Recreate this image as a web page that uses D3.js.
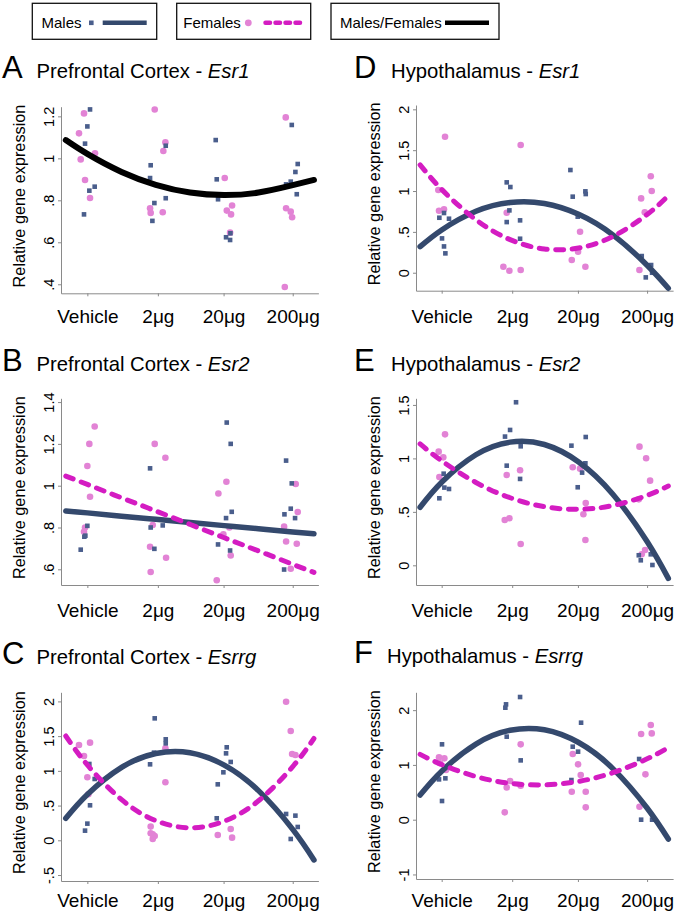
<!DOCTYPE html>
<html><head><meta charset="utf-8">
<script src="https://cdn.jsdelivr.net/npm/d3@7"></script>
<style>
body{margin:0;background:#fff;}
text{font-family:"Liberation Sans",Arial,Helvetica,sans-serif;fill:#000;}
</style></head>
<body><svg id="chart" width="680" height="913"></svg>
<script>
// ---------------- DATA ----------------
const doseLabels = ["Vehicle", "2\u03bcg", "20\u03bcg", "200\u03bcg"];
const doseTicks = [1, 2.03, 2.99, 4];
const panelLetters = ["A", "B", "C", "D", "E", "F"];
const panelRegions = ["Prefrontal Cortex", "Prefrontal Cortex", "Prefrontal Cortex", "Hypothalamus", "Hypothalamus", "Hypothalamus"];
const panelGenes = ["Esr1", "Esr2", "Esrrg", "Esr1", "Esr2", "Esrrg"];
const yRanges = [[0.357, 1.246], [0.525, 1.418], [-0.586, 2.131], [-0.22, 2.053], [-0.184, 1.562], [-1.083, 2.326]];
const yTickValues = [[0.4, 0.6, 0.8, 1, 1.2], [0.6, 0.8, 1, 1.2, 1.4], [-0.5, 0, 0.5, 1, 1.5, 2], [0, 0.5, 1, 1.5, 2], [0, 0.5, 1, 1.5], [-1, 0, 1, 2]];
const yTickLabels = [[".4", ".6", ".8", "1", "1.2"], [".6", ".8", "1", "1.2", "1.4"], ["-.5", "0", ".5", "1", "1.5", "2"], ["0", ".5", "1", "1.5", "2"], ["0", ".5", "1", "1.5"], ["-1", "0", "1", "2"]];

// fitted curves read at these dose positions
const fitX = [0.685, 1, 1.5, 2, 2.5, 3, 3.5, 4, 4.31];
const aFitBoth = [1.087, 1.021, 0.935, 0.874, 0.837, 0.825, 0.837, 0.872, 0.897];
const bFitMales = [0.879, 0.870, 0.854, 0.839, 0.824, 0.809, 0.794, 0.779, 0.770];
const bFitFemales = [1.046, 1.006, 0.942, 0.879, 0.815, 0.751, 0.688, 0.624, 0.585];
const cFitMales = [0.317, 0.660, 1.050, 1.250, 1.261, 1.083, 0.715, 0.157, -0.283];
const cFitFemales = [1.502, 1.085, 0.585, 0.283, 0.180, 0.275, 0.569, 1.061, 1.466];
const dFitMales = [0.319, 0.524, 0.752, 0.860, 0.848, 0.716, 0.464, 0.092, -0.190];
const dFitFemales = [1.320, 1.020, 0.649, 0.405, 0.290, 0.303, 0.444, 0.713, 0.944];
const eFitMales = [0.543, 0.777, 1.034, 1.152, 1.130, 0.967, 0.665, 0.222, -0.122];
const eFitFemales = [1.135, 0.977, 0.775, 0.632, 0.548, 0.524, 0.559, 0.654, 0.742];
const fFitMales = [0.450, 0.886, 1.381, 1.633, 1.642, 1.409, 0.933, 0.213, -0.354];
const fFitFemales = [1.193, 1.007, 0.788, 0.664, 0.635, 0.699, 0.858, 1.111, 1.315];

// individual observations [dose position, expression]
const aFemales = [[0.878,1.119],[0.951,1.214],[0.903,0.995],[0.966,0.897],[1.039,0.811],[1.112,1.024],[1.984,1.233],[1.916,0.762],[1.925,0.740],[2.101,0.743],[2.110,1.035],[2.140,1.076],[3.007,0.906],[3.037,0.751],[3.099,0.733],[3.114,0.775],[3.085,0.646],[3.898,1.195],[3.903,0.762],[3.971,0.746],[3.991,0.719],[3.884,0.387]];
const aMales = [[1.039,1.233],[1.0,1.152],[0.966,1.070],[1.029,0.846],[1.107,0.865],[0.951,0.733],[1.925,0.967],[1.916,0.906],[1.979,0.787],[1.950,0.702],[2.145,1.060],[2.145,0.810],[2.875,1.087],[2.890,0.900],[2.909,0.805],[3.026,0.624],[3.085,0.611],[3.090,0.643],[3.986,1.159],[3.903,0.876],[3.971,0.889],[4.073,0.973],[4.039,0.935],[4.059,0.829]];
const bFemales = [[1.107,1.283],[1.029,1.200],[1.0,1.094],[1.039,0.947],[0.966,0.800],[0.951,0.780],[1.984,1.200],[2.140,1.134],[1.955,0.812],[1.916,0.708],[1.925,0.587],[2.150,0.655],[3.031,1.019],[2.914,0.963],[2.890,0.548],[2.987,0.767],[3.094,0.666],[3.075,0.800],[4.044,1.008],[4.073,0.874],[3.874,0.804],[3.903,0.733],[4.059,0.722],[3.971,0.603]];
const bMales = [[0.903,0.694],[0.956,0.756],[0.971,0.761],[1.0,0.808],[1.916,1.083],[1.925,0.800],[2.101,0.810],[1.979,0.698],[3.036,1.302],[3.094,1.200],[3.026,0.845],[3.109,0.875],[2.909,0.719],[3.085,0.690],[3.903,1.120],[3.986,1.011],[3.971,0.890],[4.034,0.845],[3.879,0.863],[3.874,0.599]];
const cFemales = [[0.878,1.372],[0.951,1.214],[1.039,1.406],[1.0,0.907],[1.015,0.662],[2.140,1.324],[2.140,0.835],[1.925,0.197],[1.925,0.101],[1.955,0.019],[1.984,0.062],[1.955,0.086],[2.905,0.077],[3.094,0.163],[3.114,0.038],[3.903,1.996],[3.971,1.574],[3.991,1.243],[4.039,1.228]];
const cMales = [[1.029,1.099],[1.107,0.883],[1.039,0.504],[1.0,0.240],[0.966,0.139],[1.984,1.756],[1.974,1.262],[2.145,1.454],[2.145,1.396],[1.916,1.094],[3.036,1.339],[3.026,1.252],[3.094,1.128],[2.987,0.979],[2.905,0.806],[2.890,0.317],[3.903,0.379],[4.039,0.355],[4.073,0.192],[3.971,0.019]];
const dFemales = [[1.049,1.665],[0.951,1.012],[0.961,0.759],[1.034,0.776],[1.950,0.735],[1.901,0.073],[1.989,0.024],[2.154,1.563],[2.154,0.033],[2.900,0.155],[3.021,0.502],[2.992,0.257],[3.099,0.073],[3.888,0.033],[3.913,0.910],[3.966,0.739],[4.054,1.180],[4.068,1.000]];
const dMales = [[0.966,0.673],[1.034,0.731],[1.107,0.661],[1.005,0.420],[1.034,0.322],[1.054,0.237],[1.950,0.620],[1.950,1.106],[2.003,1.049],[1.989,0.763],[2.145,0.641],[2.145,0.416],[2.880,1.257],[2.914,0.931],[2.987,0.686],[3.099,0.996],[3.104,0.963],[3.922,0.204],[3.981,-0.057],[4.059,0.094],[4.073,0.0]];
const eFemales = [[1.049,1.225],[0.956,1.063],[1.024,1.010],[0.966,0.826],[1.950,0.845],[2.145,0.889],[1.921,0.424],[1.989,0.440],[2.154,0.200],[2.914,0.917],[3.021,0.904],[3.070,0.477],[3.104,0.583],[3.099,0.237],[3.889,1.110],[3.986,1.001],[4.044,0.792],[3.879,0.617],[3.971,0.143],[3.922,0.103]];
const eMales = [[0.966,0.627],[1.029,0.857],[1.039,0.727],[1.107,0.714],[1.925,1.204],[1.999,1.266],[2.086,1.525],[2.154,1.113],[1.950,0.932],[2.145,0.808],[2.895,1.119],[3.104,1.200],[3.099,0.954],[3.051,0.867],[2.987,0.730],[3.879,0.094],[3.908,0.047],[4.078,0.003],[4.054,0.103]];
const fFemales = [[0.961,1.138],[1.039,1.120],[0.976,1.029],[1.063,0.907],[1.921,0.134],[1.950,0.590],[1.999,0.706],[2.154,1.376],[2.154,0.621],[2.914,1.199],[2.992,1.010],[3.031,0.816],[2.900,0.511],[3.104,0.511],[3.104,0.225],[3.913,1.564],[4.054,1.729],[4.068,1.576],[3.976,0.828],[3.889,0.237]];
const fMales = [[1.005,1.376],[0.961,0.736],[1.054,0.755],[1.005,0.341],[1.930,2.045],[1.940,2.106],[2.145,2.240],[1.950,1.516],[2.154,1.083],[2.914,1.333],[2.992,1.242],[3.036,1.771],[2.895,0.724],[3.913,0.0],[4.073,0.0],[3.884,1.108]];

const femalesByPanel = [aFemales, bFemales, cFemales, dFemales, eFemales, fFemales];
const malesByPanel = [aMales, bMales, cMales, dMales, eMales, fMales];
const fitMalesByPanel = [null, bFitMales, cFitMales, dFitMales, eFitMales, fFitMales];
const fitFemalesByPanel = [null, bFitFemales, cFitFemales, dFitFemales, eFitFemales, fFitFemales];
const fitBothByPanel = [aFitBoth, null, null, null, null, null];

// ---------------- LAYOUT / STYLE ----------------
const C_MALE_LINE = "#34496d", C_MALE_PT = "#4a5e8c", C_FEM_LINE = "#d41cc2", C_FEM_PT = "#e283d5", C_AXIS = "#8a8a8a";
const cols = [
  {axisX: 61, right: 318.4, xDom: [0.615, 4.375], letterX: 2, titleX: 36.5},
  {axisX: 416, right: 673.1, xDom: [0.625, 4.38], letterX: 354, titleX: 391}
];
const boxes = [
  {top: 106.7, bottom: 293.3, titleY: 78, labelY: 323.5},
  {top: 398.3, bottom: 585, titleY: 371, labelY: 616.5},
  {top: 692.3, bottom: 881, titleY: 664, labelY: 907},
  {top: 105, bottom: 290.7, titleY: 78, labelY: 323.5},
  {top: 398.3, bottom: 585, titleY: 371, labelY: 616.5},
  {top: 692.3, bottom: 879, titleY: 663, labelY: 907}
];

const svg = d3.select("#chart");

// ---------------- LEGEND ----------------
const leg = svg.append("g");
function legBox(x0, w) {
  leg.append("rect").attr("x", x0).attr("y", 3.3).attr("width", w).attr("height", 36)
    .attr("fill", "none").attr("stroke", "#111").attr("stroke-width", 1.3);
}
legBox(32.3, 124.4); legBox(176.7, 134); legBox(331, 168);
leg.append("text").attr("x", 41.5).attr("y", 28.3).attr("font-size", 15).text("Males");
leg.append("rect").attr("x", 89).attr("y", 20.5).attr("width", 4.6).attr("height", 4.6).attr("fill", C_MALE_PT);
leg.append("line").attr("x1", 102.7).attr("x2", 146.7).attr("y1", 22.8).attr("y2", 22.8)
  .attr("stroke", C_MALE_LINE).attr("stroke-width", 4.5);
leg.append("text").attr("x", 183.3).attr("y", 28.3).attr("font-size", 15).text("Females");
leg.append("circle").attr("cx", 248.3).attr("cy", 22.8).attr("r", 3.4).attr("fill", C_FEM_PT);
leg.append("line").attr("x1", 265.5).attr("x2", 300).attr("y1", 22.8).attr("y2", 22.8)
  .attr("stroke", C_FEM_LINE).attr("stroke-width", 4.5).attr("stroke-linecap", "round")
  .attr("stroke-dasharray", "4.5,5.5");
leg.append("text").attr("x", 340).attr("y", 28.3).attr("font-size", 15).text("Males/Females");
leg.append("line").attr("x1", 445).attr("x2", 489).attr("y1", 22.8).attr("y2", 22.8)
  .attr("stroke", "#000").attr("stroke-width", 4.5);

// ---------------- PANELS ----------------
panelLetters.forEach((letter, i) => {
  const col = cols[i < 3 ? 0 : 1];
  const b = boxes[i];
  const x = d3.scaleLinear().domain(col.xDom).range([col.axisX, col.right]);
  const y = d3.scaleLinear().domain(yRanges[i]).range([b.bottom, b.top]);
  const g = svg.append("g");

  // title
  g.append("text").attr("x", col.letterX).attr("y", b.titleY).attr("font-size", 31).text(letter);
  const t = g.append("text").attr("x", i === 5 ? 387 : col.titleX).attr("y", b.titleY).attr("font-size", 20.3);
  t.append("tspan").text(panelRegions[i] + " - ");
  t.append("tspan").attr("font-style", "italic").text(panelGenes[i]);

  // y axis
  const yAx = g.append("g").attr("transform", `translate(${col.axisX},0)`)
    .call(d3.axisLeft(y).tickValues(yTickValues[i]).tickFormat((d, k) => yTickLabels[i][k]).tickSize(3).tickSizeOuter(0));
  yAx.selectAll("text").attr("x", null).attr("dy", null).attr("text-anchor", "middle")
    .attr("transform", "translate(-7.5,0) rotate(-90)").attr("font-size", 14.5)
    .style("font-family", "'Liberation Sans', Arial, sans-serif").attr("fill", "#000");
  // x axis
  const xAx = g.append("g").attr("transform", `translate(0,${b.bottom})`)
    .call(d3.axisBottom(x).tickValues(doseTicks).tickFormat((d, k) => doseLabels[k]).tickSize(3).tickSizeOuter(0));
  xAx.selectAll("text").attr("y", b.labelY - b.bottom).attr("dy", null).attr("font-size", 19)
    .style("font-family", "'Liberation Sans', Arial, sans-serif").attr("fill", "#000");
  g.selectAll(".domain, .tick line").attr("stroke", C_AXIS).attr("stroke-width", 1);

  // axis title
  const cy = (b.top + b.bottom) / 2 - 4;
  g.append("text").attr("transform", `translate(${col.axisX - 36},${cy}) rotate(-90)`)
    .attr("text-anchor", "middle").attr("font-size", 16.3).text("Relative gene expression");

  // points
  g.append("g").selectAll("circle").data(femalesByPanel[i]).join("circle")
    .attr("cx", d => x(d[0])).attr("cy", d => y(d[1])).attr("r", 3.3).attr("fill", C_FEM_PT);
  const s = 4.6;
  g.append("g").selectAll("rect").data(malesByPanel[i]).join("rect")
    .attr("x", d => x(d[0]) - s / 2).attr("y", d => y(d[1]) - s / 2).attr("width", s).attr("height", s).attr("fill", C_MALE_PT);

  // fits
  const line = d3.line().x(d => x(d[0])).y(d => y(d[1])).curve(d3.curveNatural);
  if (fitBothByPanel[i]) {
    g.append("path").attr("d", line(d3.zip(fitX, fitBothByPanel[i]))).attr("fill", "none")
      .attr("stroke", "#000").attr("stroke-width", 6).attr("stroke-linecap", "round");
  }
  if (fitMalesByPanel[i]) {
    g.append("path").attr("d", line(d3.zip(fitX, fitMalesByPanel[i]))).attr("fill", "none")
      .attr("stroke", C_MALE_LINE).attr("stroke-width", 5.5).attr("stroke-linecap", "round");
  }
  if (fitFemalesByPanel[i]) {
    g.append("path").attr("d", line(d3.zip(fitX, fitFemalesByPanel[i]))).attr("fill", "none")
      .attr("stroke", C_FEM_LINE).attr("stroke-width", 5).attr("stroke-linecap", "round")
      .attr("stroke-dasharray", "8,8.5");
  }
});
</script></body></html>
